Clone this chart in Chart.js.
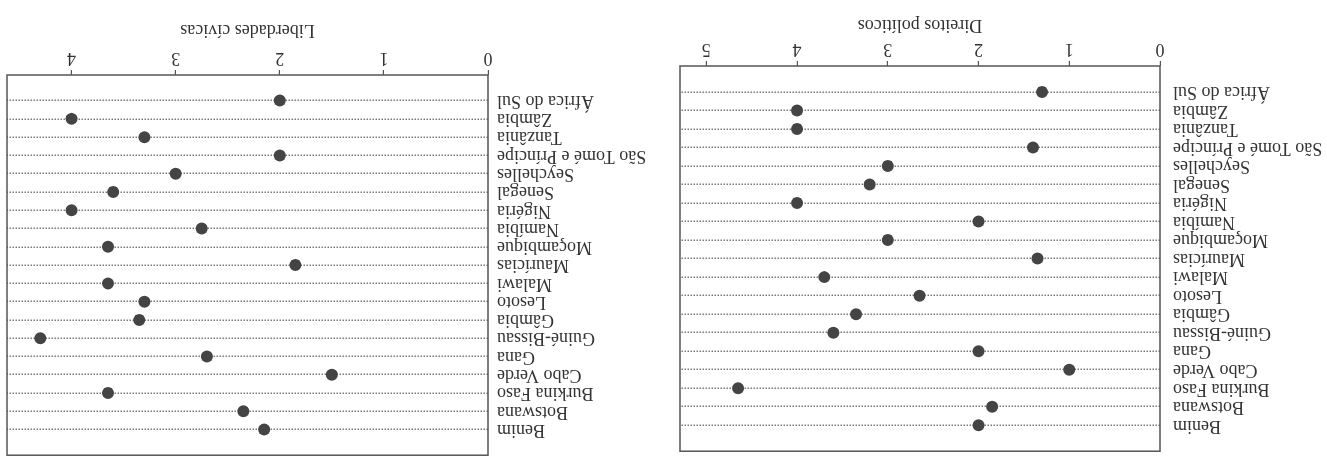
<!DOCTYPE html>
<html lang="pt">
<head>
<meta charset="UTF-8">
<title>Direitos políticos e liberdades cívicas</title>
<script src="https://cdn.jsdelivr.net/npm/chart.js@4.4.1/dist/chart.umd.min.js"></script>
<style>
    body { margin: 0; background: #fff; overflow: hidden; }
    /* the scanned figure is printed upside down, so the whole page is turned */
    #page { position: relative; width: 1327px; height: 475px; transform: rotate(180deg); }
    .panel { position: absolute; top: 0; height: 475px; }
    #left { left: 0; width: 660px; }
    #right { left: 665px; width: 662px; }
</style>
</head>
<body>
<div id="page">
    <div class="panel" id="left"><canvas id="politicos"></canvas></div>
    <div class="panel" id="right"><canvas id="civicas"></canvas></div>
</div>
<script>
const countries = ['Benim', 'Botswana', 'Burkina Faso', 'Cabo Verde', 'Gana', 'Guiné-Bissau', 'Gâmbia',
    'Lesoto', 'Malawi', 'Maurícias', 'Moçambique', 'Namíbia', 'Nigéria', 'Senegal', 'Seychelles',
    'São Tomé e Príncipe', 'Tanzânia', 'Zâmbia', 'África do Sul'];
const politicos = [2, 1.85, 4.65, 1, 2, 3.6, 3.35, 2.65, 3.7, 1.35, 3, 2, 4, 3.2, 3, 1.4, 4, 4, 1.3];
const civicas = [2.15, 2.35, 3.65, 1.5, 2.7, 4.3, 3.35, 3.3, 3.65, 1.85, 3.65, 2.75, 4, 3.6, 3, 2, 3.3, 4, 2];
const ticksPoliticos = [0, 1, 2, 3, 4, 5];
const ticksCivicas = [0, 1, 2, 3, 4];

const ink = '#333';
const serif = "'Liberation Serif', 'DejaVu Serif', serif";

// box around the plot area
const frame = {
    id: 'frame',
    afterDraw(chart) {
        const { ctx, chartArea: a } = chart;
        ctx.save();
        ctx.strokeStyle = '#555';
        ctx.lineWidth = 1.5;
        ctx.strokeRect(a.left, a.top, a.right - a.left, a.bottom - a.top);
        ctx.restore();
    }
};

function makeChart(id, values, xTicks, o) {
    return new Chart(document.getElementById(id), {
        type: 'scatter',
        data: {
            datasets: [{
                data: values.map((v, i) => ({ x: v, y: i })),
                pointRadius: 6,
                pointHoverRadius: 6,
                backgroundColor: '#444',
                borderWidth: 0
            }]
        },
        options: {
            responsive: true,
            maintainAspectRatio: false,
            animation: false,
            events: [],
            layout: { padding: { top: o.padTop, right: o.padRight, left: 0, bottom: 0 } },
            plugins: { legend: { display: false }, tooltip: { enabled: false } },
            scales: {
                x: {
                    type: 'linear',
                    position: 'bottom',
                    min: 0,
                    max: o.xMax,
                    afterBuildTicks: s => { s.ticks = xTicks.map(v => ({ value: v })); },
                    afterFit: s => { s.height = o.xHeight; },
                    grid: { drawOnChartArea: false, drawTicks: true, tickLength: 5, color: '#555', lineWidth: 1.2 },
                    border: { display: false },
                    ticks: { padding: 1, autoSkip: false, color: ink, font: { family: serif, size: 18 } },
                    title: {
                        display: true,
                        text: o.title,
                        color: ink,
                        font: { family: serif, size: 18 },
                        padding: { top: 0, bottom: o.titlePad }
                    }
                },
                y: {
                    type: 'linear',
                    reverse: true,
                    min: -1.4,
                    max: countries.length - 1 + 1.4,
                    afterBuildTicks: s => { s.ticks = countries.map((c, i) => ({ value: i })); },
                    afterFit: s => { s.width = o.yWidth; },
                    grid: { drawTicks: false, color: '#7a7a7a', lineWidth: 1.4 },
                    border: { display: false, dash: [1.5, 1.5] },
                    ticks: {
                        padding: o.labelPad,
                        autoSkip: false,
                        color: ink,
                        font: { family: serif, size: 18 },
                        callback: v => countries[v]
                    }
                }
            }
        },
        plugins: [frame]
    });
}

makeChart('politicos', politicos, ticksPoliticos, {
    title: 'Direitos políticos', xMax: 5.29, yWidth: 167, xHeight: 66,
    padTop: 10, padRight: 13, titlePad: 14, labelPad: 13
});
makeChart('civicas', civicas, ticksCivicas, {
    title: 'Liberdades cívicas', xMax: 4.62, yWidth: 174, xHeight: 75,
    padTop: 5, padRight: 7, titlePad: 19, labelPad: 9
});
</script>
</body>
</html>
